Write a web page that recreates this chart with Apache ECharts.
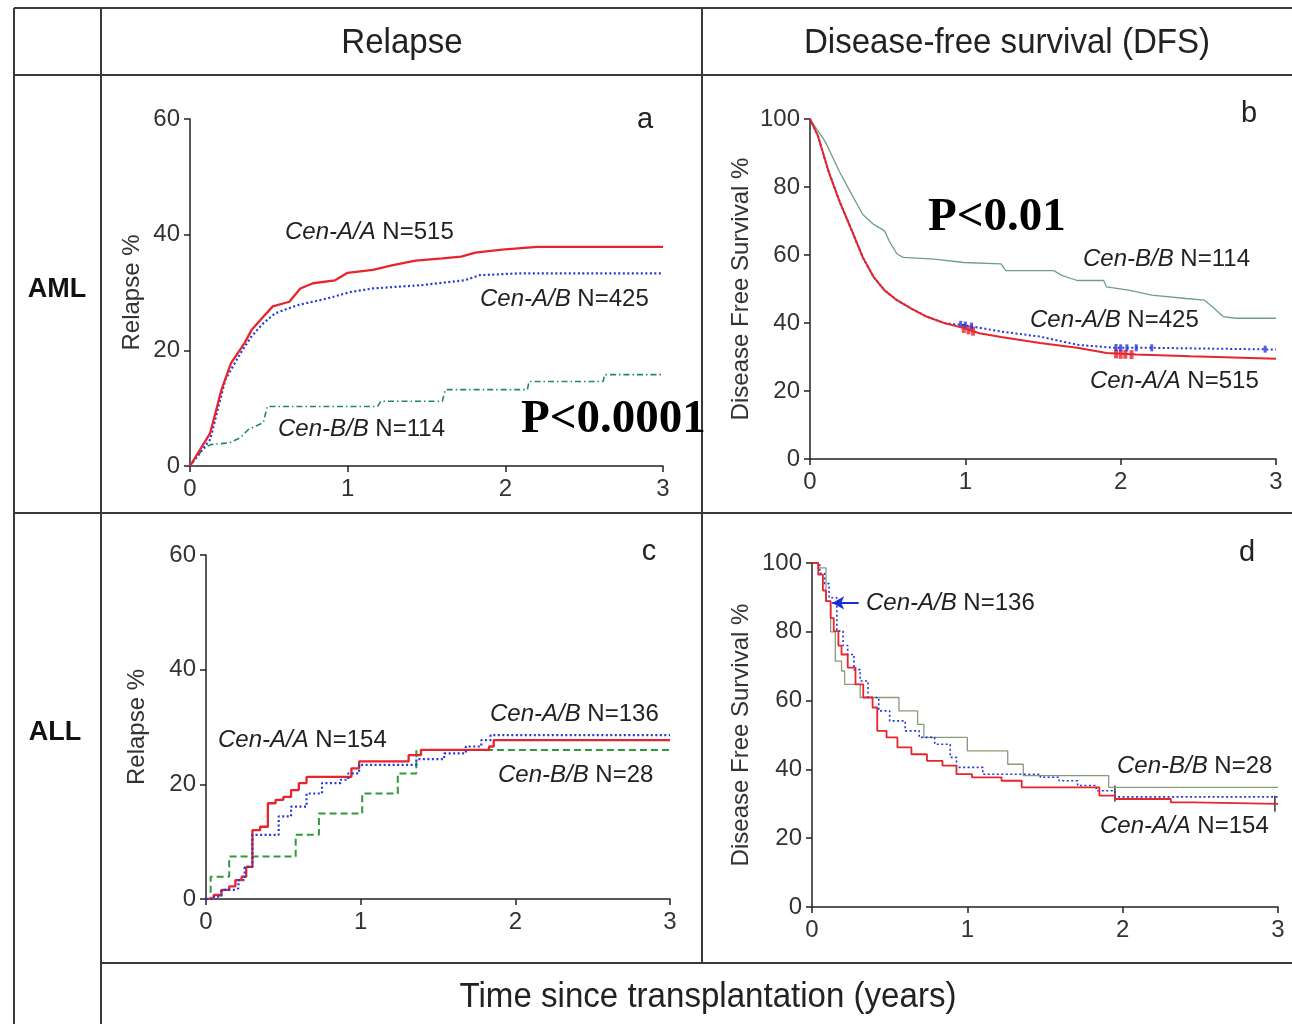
<!DOCTYPE html>
<html><head><meta charset="utf-8">
<script src="https://cdn.jsdelivr.net/npm/echarts@6/dist/echarts.min.js"></script>
<style>html,body{margin:0;padding:0;background:#fff}#c{width:1292px;height:1024px}</style>
</head><body><div id="c"></div>
<script>
// ---- tick settings ----
const xTickStep = 1;            // years
const relapseMax = 60, relapseStep = 20;
const dfsMax = 100, dfsStep = 20;

// ---- panel a: Relapse, AML ----
const aRelapseAA = [[0,0],[0.128,5.7],[0.2,13.2],[0.26,17.8],[0.345,21.2],[0.39,23.5],[0.465,25.8],[0.525,27.6],[0.63,28.4],[0.70,30.7],[0.78,31.6],[0.92,32.1],[1.0,33.4],[1.16,33.9],[1.28,34.7],[1.43,35.5],[1.6,35.9],[1.72,36.2],[1.81,36.9],[1.98,37.4],[2.2,37.9],[3,37.9]];
const aRelapseAB = [[0,0],[0.128,4.6],[0.224,14.9],[0.32,19.5],[0.39,22.4],[0.465,24.7],[0.54,26.4],[0.68,27.8],[0.875,29.0],[1.02,30.1],[1.16,30.7],[1.48,31.3],[1.74,32.1],[1.84,33.0],[2.08,33.3],[3,33.3]];
const aRelapseBB = [[0,0],[0.08,2.9],[0.13,3.7],[0.25,4.0],[0.32,4.9],[0.37,6.3],[0.465,7.5],[0.49,10.3],[1.19,10.3],[1.21,11.2],[1.6,11.2],[1.62,13.2],[2.14,13.2],[2.15,14.6],[2.62,14.6],[2.63,15.8],[3,15.8]];

// ---- panel b: DFS, AML ----
const aDfsAA = [[0,100],[0.05,95.2],[0.12,84.5],[0.19,75.8],[0.27,67.1],[0.34,59.3],[0.41,53.5],[0.48,49.6],[0.56,46.7],[0.65,44.3],[0.75,41.9],[0.87,39.9],[0.99,38.5],[1.09,37.0],[1.23,35.9],[1.48,34.1],[1.72,32.7],[1.91,31.2],[2.1,30.7],[2.45,30.2],[3,29.5]];
const aDfsAB = [[0,100],[0.05,95.2],[0.12,84.5],[0.19,75.8],[0.27,67.1],[0.34,59.3],[0.41,53.5],[0.48,49.6],[0.56,46.7],[0.65,44.3],[0.75,41.9],[0.87,39.9],[0.99,39.4],[1.23,37.5],[1.48,36.0],[1.72,33.6],[1.96,32.7],[2.2,32.7],[3,32.2]];
const aDfsBB = [[0,100],[0.1,93.2],[0.19,84.5],[0.27,77.7],[0.34,71.9],[0.41,69.0],[0.48,67.1],[0.51,64.1],[0.56,60.3],[0.6,59.3],[0.8,58.8],[0.99,57.8],[1.23,57.4],[1.26,55.4],[1.57,55.4],[1.62,54.0],[1.72,52.5],[1.89,52.5],[1.91,50.6],[2.06,49.6],[2.2,48.2],[2.42,47.2],[2.54,46.7],[2.59,44.8],[2.66,41.9],[2.74,41.4],[3,41.4]];
// censoring marks in panel b
const aDfsAAcens = [[0.99,38.4],[1.02,38.0],[1.05,37.6],[1.97,30.9],[2.0,30.8],[2.03,30.8],[2.07,30.7]];
const aDfsABcens = [[0.97,39.6],[1.0,39.4],[1.04,39.1],[1.97,32.8],[2.0,32.7],[2.04,32.7],[2.1,32.7],[2.2,32.7],[2.93,32.3]];

// ---- panel c: Relapse, ALL (step points) ----
const lRelapseAA = [[0,0],[0.05,0.7],[0.1,1.6],[0.15,2.2],[0.19,3.3],[0.23,3.9],[0.26,5.6],[0.3,12.0],[0.35,12.6],[0.4,16.7],[0.45,17.3],[0.5,17.8],[0.55,19.0],[0.6,20.2],[0.65,21.3],[0.94,22.8],[0.99,24.0],[1.31,25.1],[1.39,26.0],[1.83,26.6],[1.86,27.7],[3,27.7]];
const lRelapseAB = [[0,0],[0.05,0.4],[0.1,1.6],[0.19,1.9],[0.21,3.3],[0.25,5.6],[0.3,11.2],[0.47,14.4],[0.55,16.1],[0.65,18.4],[0.75,20.2],[0.87,20.8],[0.92,21.9],[0.99,23.4],[1.36,24.4],[1.54,25.4],[1.68,26.6],[1.78,27.7],[1.84,28.6],[3,28.6]];
const lRelapseBB = [[0,0],[0.03,3.9],[0.15,7.4],[0.58,11.2],[0.73,14.9],[1.01,18.4],[1.24,21.9],[1.36,26.0],[3,26.0]];

// ---- panel d: DFS, ALL (step points) ----
const lDfsAA = [[0,100],[0.04,96.6],[0.07,92],[0.09,88.9],[0.12,84],[0.14,80.2],[0.17,76],[0.19,73.4],[0.23,69.6],[0.28,64.7],[0.33,60.9],[0.39,58.0],[0.42,51.2],[0.48,49.3],[0.55,46.4],[0.64,44.4],[0.74,42.5],[0.84,41.1],[0.93,38.6],[1.03,37.7],[1.22,36.7],[1.35,34.8],[1.85,32.4],[1.95,31.4],[2.31,30.4],[2.45,30.0],[3,30.0]];
const lDfsAB = [[0,100],[0.05,97],[0.08,94],[0.11,89.9],[0.16,80.2],[0.2,76],[0.23,73.4],[0.27,69],[0.31,65.7],[0.36,60.9],[0.43,57.0],[0.5,54.1],[0.6,51.2],[0.69,49.3],[0.79,47.3],[0.89,43.5],[0.93,40.6],[1.1,38.6],[1.47,37.7],[1.59,36.7],[1.71,35.3],[1.83,33.8],[1.95,32.0],[3,32.0]];
const lDfsBB = [[0,100],[0.04,98.6],[0.09,88.9],[0.12,80],[0.15,71.5],[0.19,68.6],[0.21,64.7],[0.31,60.9],[0.56,57.0],[0.68,53.1],[0.72,49.3],[1.0,45.4],[1.26,41.5],[1.36,38.2],[1.91,34.8],[3,34.8]];
const lDfsCens = [[1.95,33.0],[2.98,30.0]];
const lDfsArrow = [[0.3,88.4],[0.13,88.4]];

// ---- texts ----
const colHeaders = ['Relapse', 'Disease-free survival (DFS)'];
const rowHeaders = ['AML', 'ALL'];
const footer = 'Time since transplantation (years)';
const panelLetters = ['a','b','c','d'];
const pValues = ['P<0.0001','P<0.01'];

const FONT = '"Liberation Sans", Arial, Helvetica, sans-serif';
const SERIF = '"Liberation Serif", "Times New Roman", serif';
const RED = '#e8242c', BLUE = '#2438d8', GREEN_A = '#1e8a5e', GREEN_C = '#2e9a3a', GREEN_B = '#6f9e88', GREEN_D = '#8a9a7c';

function xAx(i){
  return {type:'value', gridIndex:i, min:0, max:3, interval:xTickStep,
    axisLine:{lineStyle:{color:'#222', width:1.5}},
    axisTick:{length:6, lineStyle:{color:'#222', width:1.5}},
    axisLabel:{fontSize:24, color:'#333', margin:11, fontFamily:FONT},
    splitLine:{show:false}};
}
function yAx(i, max, step, name, gap){
  return {type:'value', gridIndex:i, min:0, max:max, interval:step,
    name:name, nameLocation:'middle', nameGap:gap, nameRotate:90,
    nameTextStyle:{fontSize:24, color:'#333', fontFamily:FONT},
    axisLine:{show:true, lineStyle:{color:'#222', width:1.5}},
    axisTick:{show:true, length:6, lineStyle:{color:'#222', width:1.5}},
    axisLabel:{fontSize:24, color:'#333', margin:10, fontFamily:FONT},
    splitLine:{show:false}};
}
function ser(i, data, color, type, width, step){
  return {type:'line', xAxisIndex:i, yAxisIndex:i, data:data, step:step||false,
    showSymbol:false, symbol:'none', silent:true, animation:false,
    lineStyle:{color:color, width:width, type:type}};
}
function cens(i, data, color, size){
  return {type:'scatter', xAxisIndex:i, yAxisIndex:i, data:data, symbol:'rect', symbolSize:size,
    silent:true, animation:false, itemStyle:{color:color}};
}
function lab(x, y, geno, n){
  return {type:'text', x:x, y:y, style:{text:'{i|'+geno+'} N='+n, fontSize:24, fontFamily:FONT, fill:'#222',
    verticalAlign:'middle', align:'left',
    rich:{i:{fontStyle:'italic', fontSize:24, fontFamily:FONT, fill:'#222'}}}};
}
function txt(x, y, t, size, opts, sx){
  return {type:'text', x:x, y:y, scaleX:sx||1, style:Object.assign({text:t, fontSize:size, fontFamily:FONT, fill:'#222', align:'center', verticalAlign:'middle'}, opts||{})};
}
function hl(x1,y1,x2,y2){
  return {type:'line', shape:{x1:x1,y1:y1,x2:x2,y2:y2}, style:{stroke:'#3a3a3a', lineWidth:2}};
}

const arrowSeries = {type:'line', xAxisIndex:3, yAxisIndex:3, data:[], silent:true,
  markLine:{silent:true, symbol:['none','arrow'], symbolSize:[10,12], label:{show:false},
    lineStyle:{color:'#1a2ed8', width:2, type:'solid'},
    data:[[{coord:lDfsArrow[0]},{coord:lDfsArrow[1]}]]}};

const option = {
  animation:false,
  backgroundColor:'#fff',
  grid:[
    {left:190, top:119, width:473, height:347},
    {left:810, top:119, width:466, height:340},
    {left:206, top:555, width:464, height:344},
    {left:812, top:563, width:466, height:344}
  ],
  xAxis:[xAx(0), xAx(1), xAx(2), xAx(3)],
  yAxis:[
    yAx(0, relapseMax, relapseStep, 'Relapse %', 46),
    yAx(1, dfsMax, dfsStep, 'Disease Free Survival %', 57),
    yAx(2, relapseMax, relapseStep, 'Relapse %', 57),
    yAx(3, dfsMax, dfsStep, 'Disease Free Survival %', 59)
  ],
  series:[
    ser(0, aRelapseBB, GREEN_A, [6,3,1.5,3], 1.6),
    ser(0, aRelapseAB, BLUE, [2,2.5], 2.2),
    ser(0, aRelapseAA, RED, 'solid', 2.3),
    ser(1, aDfsBB, GREEN_B, 'solid', 1.3),
    ser(1, aDfsAB, BLUE, [2,2.5], 2),
    ser(1, aDfsAA, RED, 'solid', 2),
    cens(1, aDfsAAcens, RED, [4,9]),
    cens(1, aDfsABcens, BLUE, [3,7]),
    ser(2, lRelapseBB, GREEN_C, [7,4], 2, 'end'),
    ser(2, lRelapseAA, RED, 'solid', 2.3, 'end'),
    ser(2, lRelapseAB, BLUE, [2,2.5], 2.2, 'end'),
    ser(3, lDfsBB, GREEN_D, 'solid', 1.3, 'end'),
    ser(3, lDfsAB, BLUE, [2,2.5], 1.6, 'end'),
    ser(3, lDfsAA, RED, 'solid', 1.8, 'end'),
    cens(3, lDfsCens, '#111', [1.6,16]),
    arrowSeries
  ],
  graphic:[
    hl(14,8,1292,8), hl(14,75,1292,75), hl(14,513,1292,513), hl(101,963,1292,963),
    hl(14,8,14,1024), hl(101,8,101,1024), hl(702,8,702,963),
    txt(402,43,colHeaders[0],35,{},0.945), txt(1007,43,colHeaders[1],35,{},0.945), txt(708,997,footer,35,{},0.945),
    txt(57,290,rowHeaders[0],27,{fontWeight:'bold', fill:'#111'}),
    txt(55,733,rowHeaders[1],27,{fontWeight:'bold', fill:'#111'}),
    txt(645,120,panelLetters[0],29), txt(1249,114,panelLetters[1],29),
    txt(649,552,panelLetters[2],29), txt(1247,553,panelLetters[3],29),
    txt(521,420,pValues[0],47,{align:'left', fontWeight:'bold', fontFamily:SERIF, fill:'#000'}),
    txt(928,218,pValues[1],47,{align:'left', fontWeight:'bold', fontFamily:SERIF, fill:'#000'}),
    lab(285,232,'Cen-A/A','515'), lab(480,299,'Cen-A/B','425'), lab(278,429,'Cen-B/B','114'),
    lab(1083,259,'Cen-B/B','114'), lab(1030,320,'Cen-A/B','425'), lab(1090,381,'Cen-A/A','515'),
    lab(218,740,'Cen-A/A','154'), lab(490,714,'Cen-A/B','136'), lab(498,775,'Cen-B/B','28'),
    lab(866,603,'Cen-A/B','136'), lab(1117,766,'Cen-B/B','28'), lab(1100,826,'Cen-A/A','154')
  ]
};
const chart = echarts.init(document.getElementById('c'), null, {renderer:'canvas'});
chart.setOption(option);
</script></body></html>
